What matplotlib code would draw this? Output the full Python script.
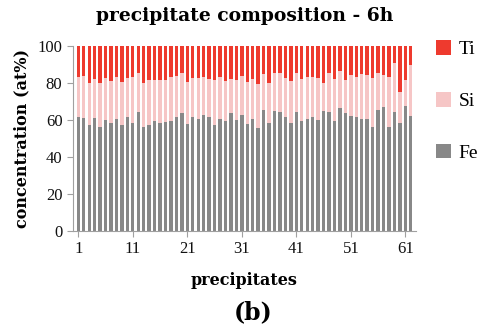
import matplotlib.pyplot as plt
import numpy as np

# composition of each precipitate after 6h (at%)
fe = [61.6, 61.1, 57.1, 61.1, 55.9, 59.8, 58.1, 60.6, 57.3, 61.6,
      58.4, 64.2, 56.2, 57.3, 59.3, 58.3, 58.8, 59.5, 61.6, 63.5,
      57.7, 61.3, 60.2, 62.5, 61.3, 57.1, 60.2, 59.5, 63.5, 59.8,
      62.5, 57.7, 60.2, 55.3, 65.0, 58.0, 64.9, 64.3, 61.3, 58.1,
      64.3, 59.5, 60.2, 61.6, 59.8, 64.9, 64.3, 59.5, 66.5, 63.8,
      62.0, 61.3, 60.2, 60.2, 56.2, 65.2, 66.7, 56.2, 64.3, 58.4,
      67.4, 62.0]
fe_si = [83.3, 83.6, 80.0, 81.8, 79.7, 82.4, 80.9, 83.3, 80.6, 82.4,
         83.3, 85.4, 80.0, 81.5, 81.5, 81.6, 81.5, 83.3, 83.6, 85.1,
         80.6, 82.7, 82.4, 83.3, 81.8, 81.5, 83.3, 80.9, 81.8, 81.5,
         83.6, 80.6, 81.8, 79.3, 84.5, 80.0, 85.4, 85.1, 82.4, 81.1,
         85.4, 81.8, 83.3, 83.3, 82.4, 79.7, 85.1, 81.8, 86.3, 81.5,
         84.2, 83.3, 84.5, 84.2, 82.4, 85.4, 84.2, 83.3, 90.5, 75.2,
         81.5, 89.6]

fe = np.array(fe)
si = np.array(fe_si) - fe
ti = 100 - np.array(fe_si)
idx = np.arange(1, len(fe) + 1)

serif = ['Liberation Serif', 'DejaVu Serif']
wide = ['DejaVu Serif']
c_fe, c_si, c_ti = '#888888', '#f6c6c6', '#ee3a2e'

fig = plt.figure(figsize=(4.84, 3.27), dpi=100)
ax = fig.add_axes([0.1505, 0.2945, 0.7095, 0.5657])

w = 0.62
ax.bar(idx, fe, w, color=c_fe, label='Fe')
ax.bar(idx, si, w, bottom=fe, color=c_si, label='Si')
ax.bar(idx, ti, w, bottom=fe + si, color=c_ti, label='Ti')

ax.set_xlim(0, 63)
ax.set_ylim(0, 100)
ax.set_xticks(np.arange(1, 62, 10))
ax.set_yticks(np.arange(0, 101, 20))
for s in ['top', 'right']:
    ax.spines[s].set_visible(False)
for s in ['left', 'bottom']:
    ax.spines[s].set_color('#a0a0a0')
ax.tick_params(colors='#a0a0a0', length=4, labelcolor='#111111')
for lab in ax.get_xticklabels() + ax.get_yticklabels():
    lab.set_family(serif)
    lab.set_fontsize(12)

ax.set_title('precipitate composition - 6h', family=wide, fontweight='bold',
             fontsize=13.5, pad=18)
ax.set_ylabel('concentration (at%)', family=wide, fontweight='bold', fontsize=11.5,
              labelpad=5)
ax.set_xlabel('precipitates', family=wide, fontweight='bold', fontsize=11.5, labelpad=11)
fig.text(0.523, 0.025, '(b)', family=wide, fontweight='bold', fontsize=17, ha='center')

h, l = ax.get_legend_handles_labels()
fig.legend(h[::-1], l[::-1], loc='upper left', bbox_to_anchor=(0.865, 0.93),
           frameon=False, prop={'family': serif, 'size': 14},
           handlelength=0.75, handleheight=0.75, handletextpad=0.4, labelspacing=1.75)

fig.savefig('out.png', dpi=100)
